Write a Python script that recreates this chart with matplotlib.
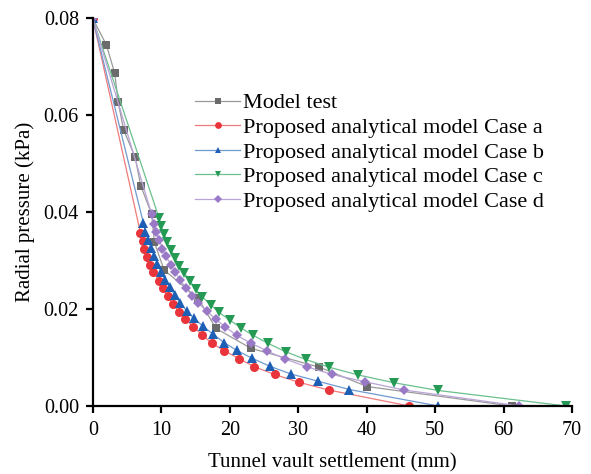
import matplotlib.pyplot as plt

plt.rcParams["font.family"] = ["Liberation Serif", "DejaVu Serif"]

# Model test
test_x = [0, 2.0, 3.2, 3.7, 4.5, 6.2, 7.0, 8.6, 9.0, 10.4, 15.4, 18.0, 23.1, 33.1, 40.1, 61.2]
test_y = [0.08, 0.0745, 0.0687, 0.0628, 0.0570, 0.0513, 0.0455, 0.0396, 0.0338, 0.0281,
          0.0222, 0.0160, 0.0119, 0.0080, 0.0040, 0.0]

# Case a
a_x = [0, 6.95, 7.30, 7.53, 7.88, 8.36, 8.85, 9.64, 10.22, 10.95, 11.77, 12.60, 13.52,
       14.69, 16.0, 17.46, 19.21, 21.31, 23.59, 26.57, 30.07, 34.45, 46.2]
a_y = [0.08, 0.0358, 0.0341, 0.0325, 0.0308, 0.0292, 0.0276, 0.0259, 0.0243, 0.0227,
       0.0210, 0.0194, 0.0179, 0.0164, 0.0146, 0.0129, 0.0114, 0.0098, 0.0081, 0.0065,
       0.0049, 0.0033, 0.0]

# Case b
b_x = [0, 7.39, 7.68, 8.12, 8.51, 8.95, 9.43, 9.97, 10.51, 11.24, 11.97, 12.74, 13.72,
       14.79, 16.06, 17.6, 19.17, 21.0, 23.2, 25.85, 28.95, 32.94, 37.46, 50.45]
b_y = [0.08, 0.0378, 0.0360, 0.0343, 0.0326, 0.0309, 0.0294, 0.0277, 0.0261, 0.0245,
       0.0229, 0.0213, 0.0196, 0.0181, 0.0165, 0.0148, 0.0131, 0.0115, 0.0099, 0.0082,
       0.0066, 0.0051, 0.0034, 0.0]

# Case c
c_x = [0, 9.68, 9.97, 10.41, 10.9, 11.43, 12.01, 12.64, 13.37, 14.2, 15.04, 16.0, 17.23,
       18.44, 20.04, 21.65, 23.4, 25.64, 28.17, 31.1, 34.54, 38.77, 44.0, 50.45, 69.1]
c_y = [0.08, 0.0388, 0.0371, 0.0356, 0.0338, 0.0323, 0.0306, 0.0290, 0.0274, 0.0258,
       0.0241, 0.0225, 0.0209, 0.0193, 0.0177, 0.0161, 0.0146, 0.0129, 0.0112, 0.0096,
       0.0080, 0.0064, 0.0048, 0.0032, 0.0]

# Case d
d_x = [0, 8.6, 8.9, 9.24, 9.73, 10.16, 10.7, 11.39, 12.01, 12.74, 13.62, 14.5, 15.42,
       16.64, 17.96, 19.36, 21.0, 23.07, 25.4, 28.07, 31.24, 34.98, 39.75, 45.45, 62.28]
d_y = [0.08, 0.0396, 0.0376, 0.0359, 0.0342, 0.0325, 0.0309, 0.0292, 0.0277, 0.0260,
       0.0244, 0.0227, 0.0212, 0.0196, 0.0179, 0.0163, 0.0146, 0.0130, 0.0114, 0.0097,
       0.0081, 0.0065, 0.0050, 0.0033, 0.0]

labels = ["Model test",
          "Proposed analytical model Case a",
          "Proposed analytical model Case b",
          "Proposed analytical model Case c",
          "Proposed analytical model Case d"]

fig = plt.figure(figsize=(5.91, 4.74), dpi=100)
ax = fig.add_axes([0.157, 0.1435, 0.811, 0.8175])

series = [
    (test_x, test_y, "s", "#6b6b6b", "#9a9a9a", 5.5),
    (a_x, a_y, "o", "#e8343a", "#f07a7c", 6.5),
    (b_x, b_y, "^", "#1d5fb5", "#6f9ad0", 6.5),
    (c_x, c_y, "v", "#259a55", "#6cc08e", 6.5),
    (d_x, d_y, "D", "#9a7ac7", "#b9a3d8", 5.5),
]

for (x, y, m, mc, lc, ms), lab in zip(series, labels):
    ax.plot(x, y, color=lc, lw=0.9, marker=m, markersize=ms,
            markerfacecolor=mc, markeredgecolor=mc, markeredgewidth=0, label=lab)

ax.set_xlim(0, 70)
ax.set_ylim(0, 0.08)
ax.set_xticks([0, 10, 20, 30, 40, 50, 60, 70])
ax.set_yticks([0.0, 0.02, 0.04, 0.06, 0.08])
ax.set_yticklabels(["0.00", "0.02", "0.04", "0.06", "0.08"])

for s in ["top", "right"]:
    ax.spines[s].set_visible(False)
for s in ["left", "bottom"]:
    ax.spines[s].set_linewidth(1.6)
ax.tick_params(direction="out", length=5, width=1.6, labelsize=14.5)
ax.tick_params(axis="x", pad=6)
ax.tick_params(axis="y", pad=5)

ax.set_xlabel("Tunnel vault settlement (mm)", fontsize=15, labelpad=9)
ax.set_ylabel("Radial pressure (kPa)", fontsize=15, labelpad=6)

ax.legend(loc="upper left", bbox_to_anchor=(0.195, 0.831), frameon=False,
          fontsize=16, handlelength=2.03, handletextpad=0.14,
          labelspacing=0.18, borderaxespad=0, markerscale=0.75)

fig.savefig("out.png", dpi=100)
